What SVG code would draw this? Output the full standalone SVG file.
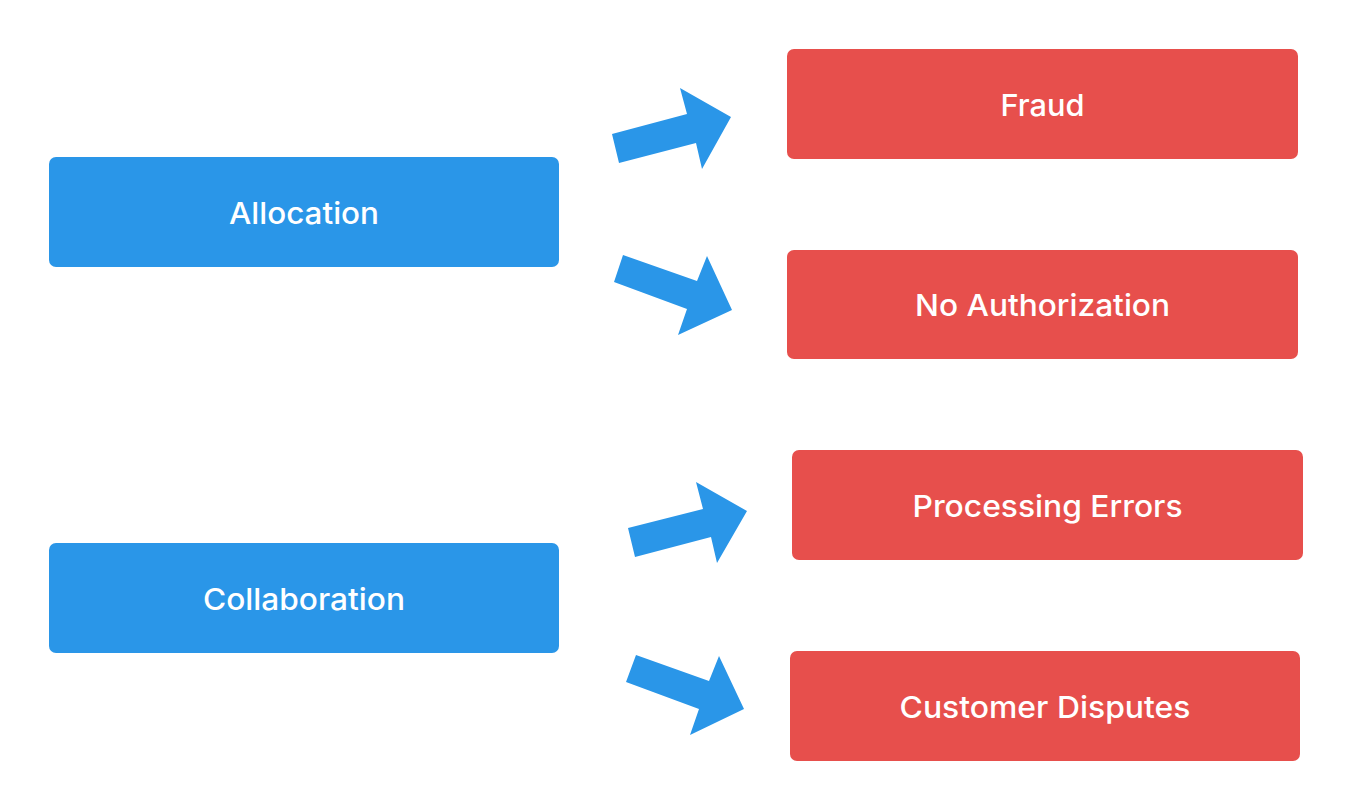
<svg xmlns="http://www.w3.org/2000/svg" width="1352" height="810" viewBox="0 0 1352 810">
<style>
.src rect{fill:#2A96E8}
.dst rect{fill:#E74F4C}
text{font-family:Inter,"Liberation Sans",Arial,sans-serif;font-size:30px;font-weight:500;fill:#FFFFFF;text-anchor:middle}
.arrow{fill:#2A96E8}
</style>
<rect width="1352" height="810" fill="#FFFFFF"/>
<g id="connectors">
<polygon class="arrow" points="612,134 619,163 696,143 702,169 731,117 680,88 687,114"/>
<polygon class="arrow" points="623,255 614,282 687,309 678,335 732,310 707,256 697,281"/>
<polygon class="arrow" points="628,528 635,557 711,537 717,563 747,511 696,482 703,509"/>
<polygon class="arrow" points="636,655 626,682 699,709 690,735 744,709 719,656 709,681"/>
</g>
<g id="allocation" class="src">
<rect x="49" y="157" width="510" height="110" rx="7"/>
<text x="304" y="223.5" textLength="150" lengthAdjust="spacingAndGlyphs">Allocation</text>
</g>
<g id="collaboration" class="src">
<rect x="49" y="543" width="510" height="110" rx="7"/>
<text x="304" y="609.5" textLength="202" lengthAdjust="spacingAndGlyphs">Collaboration</text>
</g>
<g id="fraud" class="dst">
<rect x="787" y="49" width="511" height="110" rx="7"/>
<text x="1042.5" y="115.5" textLength="84" lengthAdjust="spacingAndGlyphs">Fraud</text>
</g>
<g id="no-authorization" class="dst">
<rect x="787" y="250" width="511" height="109" rx="7"/>
<text x="1042.5" y="316" textLength="255" lengthAdjust="spacingAndGlyphs">No Authorization</text>
</g>
<g id="processing-errors" class="dst">
<rect x="792" y="450" width="511" height="110" rx="7"/>
<text x="1047.5" y="516.5" textLength="270" lengthAdjust="spacingAndGlyphs">Processing Errors</text>
</g>
<g id="customer-disputes" class="dst">
<rect x="790" y="651" width="510" height="110" rx="7"/>
<text x="1045" y="717.5" textLength="291" lengthAdjust="spacingAndGlyphs">Customer Disputes</text>
</g>
</svg>
